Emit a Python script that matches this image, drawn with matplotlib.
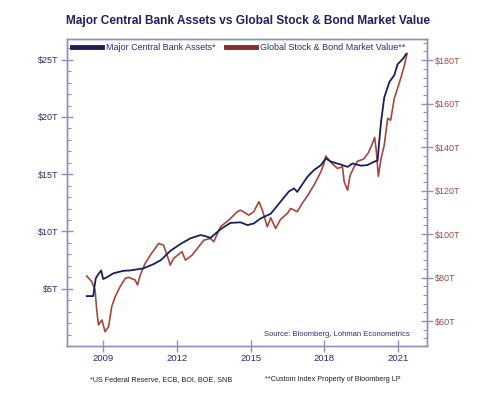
import matplotlib
matplotlib.use("Agg")
import matplotlib.pyplot as plt
from matplotlib.ticker import MultipleLocator, FixedLocator, FuncFormatter

# ---- data (decimal years) ----
cb_years = [2008.33, 2008.60, 2008.65, 2008.70, 2008.78, 2008.92, 2009.00, 2009.15, 2009.42,
            2009.83, 2010.10, 2010.37, 2010.64, 2011.05, 2011.35, 2011.73, 2012.14, 2012.55,
            2012.96, 2013.15, 2013.37, 2013.78, 2014.18, 2014.59, 2014.87, 2015.13, 2015.41,
            2015.82, 2016.22, 2016.56, 2016.77, 2016.90, 2017.31, 2017.58, 2017.86, 2018.06,
            2018.27, 2018.67, 2018.95, 2019.15, 2019.49, 2019.76, 2020.03, 2020.17, 2020.22,
            2020.31, 2020.44, 2020.65, 2020.85, 2020.98, 2021.19, 2021.33]
cb_assets = [4.36, 4.36, 5.2, 5.9, 6.2, 6.6, 5.85, 6.0, 6.35,
             6.57, 6.6, 6.69, 6.78, 7.15, 7.5, 8.3, 8.9, 9.4,
             9.69, 9.6, 9.45, 10.2, 10.75, 10.8, 10.56, 10.7, 11.14,
             11.55, 12.6, 13.5, 13.76, 13.46, 14.77, 15.36, 15.79, 16.38,
             16.1, 15.85, 15.64, 15.94, 15.75, 15.8, 16.1, 16.2, 17.5,
             19.57, 21.7, 23.06, 23.65, 24.6, 25.05, 25.5]

mkt_years = [2008.33, 2008.54, 2008.67, 2008.74, 2008.81, 2008.95, 2009.08, 2009.22, 2009.35,
             2009.49, 2009.69, 2009.90, 2010.03, 2010.30, 2010.40, 2010.51, 2010.71, 2010.92,
             2011.26, 2011.46, 2011.67, 2011.73, 2011.87, 2012.21, 2012.35, 2012.62, 2012.89,
             2013.10, 2013.37, 2013.50, 2013.78, 2014.11, 2014.46, 2014.59, 2014.75, 2014.93,
             2015.13, 2015.34, 2015.48, 2015.68, 2015.82, 2016.02, 2016.22, 2016.50, 2016.63,
             2016.90, 2017.10, 2017.31, 2017.58, 2017.86, 2017.99, 2018.06, 2018.27, 2018.54,
             2018.74, 2018.81, 2018.95, 2019.05, 2019.22, 2019.35, 2019.60, 2019.80, 2019.97,
             2020.05, 2020.12, 2020.20, 2020.31, 2020.44, 2020.58, 2020.70, 2020.85, 2020.98,
             2021.12, 2021.26, 2021.37]
mkt_value = [80.7, 78.1, 74.3, 65.1, 58.2, 60.5, 55.1, 57.4, 66.6,
             71.2, 75.8, 79.6, 80.1, 78.9, 76.6, 81.1, 86.5, 90.3,
             95.7, 94.9, 88.0, 85.7, 88.8, 91.9, 88.0, 90.3, 94.2,
             97.2, 98.0, 96.5, 103.4, 106.4, 110.3, 111.0, 110.0, 108.7,
             110.3, 114.9, 111.0, 103.4, 107.5, 102.6, 106.8, 109.5, 111.8,
             110.3, 114.1, 117.5, 122.5, 128.6, 132.5, 135.9, 133.0, 130.2,
             131.0, 124.0, 120.2, 127.0, 131.0, 133.5, 134.5, 137.5, 142.0,
             144.5, 138.0, 126.5, 134.8, 140.9, 153.2, 152.4, 162.4, 167.0,
             172.0, 177.7, 183.1]

x_ticks = [2009, 2012, 2015, 2018, 2021]
left_ticks = [5, 10, 15, 20, 25]
right_ticks = [60, 80, 100, 120, 140, 160, 180]

title = "Major Central Bank Assets vs Global Stock & Bond Market Value"
label_cb = "Major Central Bank Assets*"
label_mkt = "Global Stock & Bond Market Value**"
source = "Source: Bloomberg, Lohman Econometrics"
foot1 = "*US Federal Reserve, ECB, BOI, BOE, SNB"
foot2 = "**Custom Index Property of Bloomberg LP"

# ---- style ----
NAVY = "#1a1f5c"
RED = "#a8463c"
TXT_NAVY = "#2b2f70"
TXT_RED = "#a04a42"
SPINE = "#8e92b8"
FONT = ["Liberation Sans", "DejaVu Sans"]

fig = plt.figure(figsize=(5.0, 3.95), dpi=100)
ax = fig.add_axes([0.134, 0.124, 0.72, 0.777])
ax2 = ax.twinx()

l1, = ax.plot(cb_years, cb_assets, color=NAVY, lw=1.3, zorder=3, label=label_cb)
l2, = ax2.plot(mkt_years, mkt_value, color=RED, lw=1.2, zorder=2, label=label_mkt)
ax.set_zorder(ax2.get_zorder() + 1)
ax.patch.set_visible(False)

ax.set_xlim(2007.53, 2022.18)
ax.set_ylim(0, 26.8)
ax2.set_ylim(48.5, 189.7)

ax.xaxis.set_major_locator(FixedLocator(x_ticks))
ax.xaxis.set_major_formatter(FuncFormatter(lambda v, p: f"{int(round(v))}"))
ax.yaxis.set_major_locator(FixedLocator(left_ticks))
ax.yaxis.set_minor_locator(MultipleLocator(1))
ax.yaxis.set_major_formatter(FuncFormatter(lambda v, p: f"${int(v)}T"))
ax2.yaxis.set_major_locator(FixedLocator(right_ticks))
ax2.yaxis.set_minor_locator(MultipleLocator(4))
ax2.yaxis.set_major_formatter(FuncFormatter(lambda v, p: f"${int(v)}T"))

for a in (ax, ax2):
    for s in a.spines.values():
        s.set_color(SPINE)
        s.set_linewidth(1.0)

ax.tick_params(axis="x", which="major", direction="inout", length=8, width=1.0,
               color=SPINE, labelsize=6.8, labelcolor=TXT_NAVY, pad=2)
ax.tick_params(axis="y", which="major", direction="inout", length=8, width=1.0,
               color=SPINE, labelsize=6.5, labelcolor=TXT_NAVY, pad=2)
ax.tick_params(axis="y", which="minor", direction="in", length=3, width=0.8, color=SPINE)
ax2.tick_params(axis="y", which="major", direction="inout", length=8, width=1.0,
                color=SPINE, labelsize=6.5, labelcolor=TXT_RED, pad=2)
ax2.tick_params(axis="y", which="minor", direction="in", length=3, width=0.8, color=SPINE)
for lab in ax.get_xticklabels() + ax.get_yticklabels() + ax2.get_yticklabels():
    lab.set_family(FONT)

leg = ax.legend(handles=[l1, l2], loc="upper left", ncol=2, frameon=False,
                bbox_to_anchor=(0.0, 1.005), handlelength=3.3, handletextpad=0.45,
                columnspacing=1.1, borderaxespad=0.2,
                prop={"family": FONT, "size": 6.5})
for t in leg.get_texts():
    t.set_color(TXT_NAVY)
for h in leg.get_lines():
    h.set_linewidth(3.5)
leg.get_lines()[1].set_color("#8a2e28")

ax.text(0.953, 0.039, source, transform=ax.transAxes, ha="right", va="center",
        fontsize=5.5, color=TXT_NAVY, family=FONT)

fig.text(0.497, 0.948, title, ha="center", va="center", fontsize=8.6, fontweight="bold",
         color="#1f2260", family=FONT)
fig.text(0.18, 0.038, foot1, ha="left", va="center", fontsize=5.2, color="#222222", family=FONT)
fig.text(0.53, 0.038, foot2, ha="left", va="center", fontsize=5.2, color="#222222", family=FONT)

fig.savefig("out.png", dpi=100, facecolor="white")
